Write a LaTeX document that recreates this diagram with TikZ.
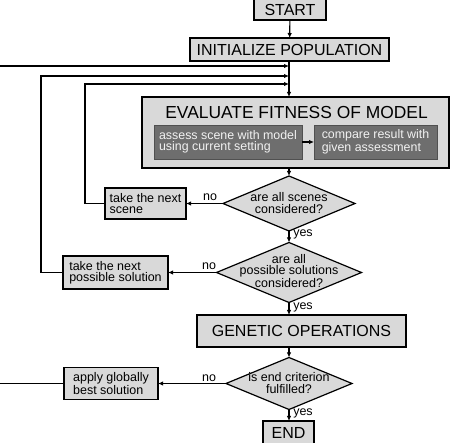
\documentclass[tikz,border=0pt]{standalone}
\usepackage{fontspec}
\setmainfont{Liberation Sans}
\usetikzlibrary{arrows.meta,shapes.geometric}
\definecolor{boxfill}{HTML}{D9D9D9}
\definecolor{darkfill}{HTML}{6E6E6E}
\definecolor{darkline}{HTML}{505050}
\definecolor{lighttext}{HTML}{F2F2F2}
\tikzset{
  box/.style={draw=black, line width=1.2pt, fill=boxfill, rectangle, inner sep=0pt, outer sep=0pt},
  bigtxt/.style={font=\fontsize{16}{18}\selectfont},
  smalltxt/.style={font=\fontsize{12.5}{11}\selectfont, align=left, inner sep=0pt},
  ctrtxt/.style={font=\fontsize{12.5}{11.5}\selectfont, align=center, inner sep=0pt},
  inner/.style={draw=darkline, line width=0.6pt, fill=darkfill, rectangle, inner sep=0pt, outer sep=0pt,
    text=lighttext, font=\fontsize{12.4}{11}\selectfont, align=left},
  dia/.style={draw=black, line width=1.2pt, fill=boxfill, diamond, inner sep=0pt, outer sep=0pt},
  lbl/.style={font=\fontsize{12.5}{14}\selectfont, inner sep=0pt},
  arr/.style={line width=1.1pt, -{Latex[length=5pt,width=4.5pt]}},
  ln/.style={line width=1.1pt},
}
\begin{document}
\begin{tikzpicture}[x=1pt,y=-1pt]
\useasboundingbox (0,0) rectangle (450,443);
% main boxes
\node[box, bigtxt, minimum width=72pt, minimum height=21pt] (start) at (290,9.5) {START};
\node[box, bigtxt, minimum width=199pt, minimum height=23pt] (init) at (289.5,49.5) {INITIALIZE POPULATION};
\node[box, minimum width=307pt, minimum height=71pt] (eval) at (295.5,132.5) {};
\node[font=\fontsize{17.4}{19}\selectfont, inner sep=0pt] (evaltitle) at (296.5,113) {EVALUATE FITNESS OF MODEL};
\node[inner, minimum width=148pt, minimum height=34pt] (assess) at (228,142) {assess scene with model\\using current setting};
\node[inner, minimum width=123pt, minimum height=34pt] (compare) at (375.5,142) {compare result with\\given assessment};
% decisions
\node[dia, minimum width=132pt, minimum height=55pt] (d1) at (289,203.5) {};
\node[ctrtxt] (d1t) at (289,203) {are all scenes\\considered?};
\node[dia, minimum width=145pt, minimum height=60pt] (d2) at (289,272.5) {};
\node[ctrtxt] (d2t) at (289,271) {are all\\possible solutions\\considered?};
\node[box, bigtxt, minimum width=209pt, minimum height=32pt] (gen) at (301.5,331) {GENETIC OPERATIONS};
\node[dia, minimum width=126pt, minimum height=52pt] (d3) at (289,383.5) {};
\node[ctrtxt] (d3t) at (289,383) {is end criterion\\fulfilled?};
\node[box, bigtxt, minimum width=51pt, minimum height=24pt] (end) at (288.5,433) {END};
% side boxes
\node[box, minimum width=81pt, minimum height=31pt] (scene) at (145.5,203.5) {};
\node[smalltxt] at (scene) {take the next\\scene};
\node[box, minimum width=105pt, minimum height=33pt] (sol) at (115.5,272.5) {};
\node[smalltxt] at (sol) {take the next\\possible solution};
\node[box, minimum width=94pt, minimum height=32pt] (apply) at (111,383.5) {};
\node[smalltxt] at (apply) {apply globally\\best solution};
% junction coordinates
\coordinate (j0) at (289,66);
\coordinate (j1) at (289,76);
\coordinate (j2) at (289,84);
\coordinate (c0) at (0,66);
\coordinate (k1) at (41,76);
\coordinate (k2) at (85,84);
\coordinate (a0) at (0,383.5);
% connectors
\draw[arr] (start) -- (init);
\draw[arr] (init.south -| j0) -- (j0 |- eval.north);
\draw[arr] (c0) -- (j0);
\draw[arr] (sol.west) -| (k1) -- (j1);
\draw[arr] (scene.west) -| (k2) -- (j2);
\draw[arr] (assess) -- (compare);
\draw[arr] (eval.south -| d1.north) -- (d1.north);
\draw[arr] (d1.west) -- (scene.east);
\draw[arr] (d1.south) -- (d2.north);
\draw[arr] (d2.west) -- (sol.east);
\draw[arr] (d2.south) -- (d2.south |- gen.north);
\draw[arr] (d3.north |- gen.south) -- (d3.north);
\draw[arr] (d3.west) -- (apply.east);
\draw[arr] (d3.south) -- (end.north -| d3.south);
\draw[ln] (apply.west) -- (a0);
% labels
\node[lbl] (no1) at (210,197) {no};
\node[lbl] (no2) at (209,266) {no};
\node[lbl] (no3) at (209,378) {no};
\node[lbl] (yes1) at (303,234) {yes};
\node[lbl] (yes2) at (303,307) {yes};
\node[lbl] (yes3) at (303,413) {yes};
\end{tikzpicture}
\end{document}
